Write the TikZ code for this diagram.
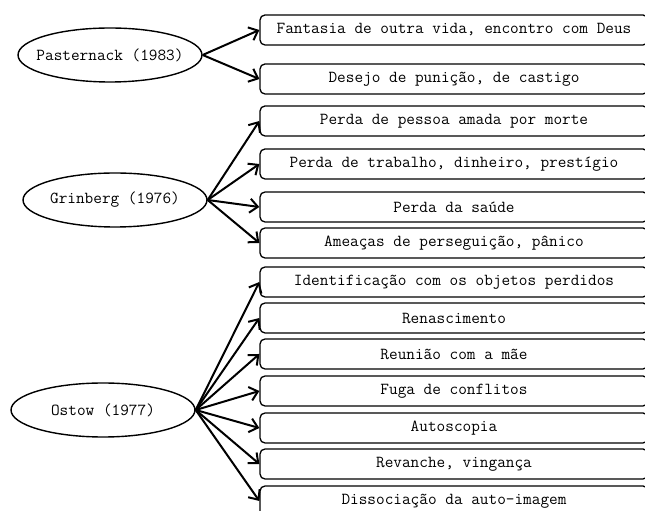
\documentclass[tikz,border=0pt]{standalone}
\usepackage{fontspec}
\usetikzlibrary{shapes.geometric,arrows.meta}
\newcommand{\reffont}{\ttfamily\fontsize{16.8}{18}\selectfont}
\newcommand{\zw}[1]{\makebox[0pt]{#1}}
\tikzset{
  item/.style={draw, line width=1.3pt, rounded corners=5pt, minimum width=388pt, minimum height=30pt, inner sep=0pt, font=\reffont},
  author/.style={draw, ellipse, line width=1.4pt, minimum width=184pt, minimum height=54pt, inner sep=0pt, font=\reffont},
  link/.style={line width=2pt, -{Straight Barb[length=8pt,width=14pt,line width=2pt]}}
}
\begin{document}
\begin{tikzpicture}[x=1pt,y=1pt]
\useasboundingbox (0,0) rectangle (645,511);
\clip (0,0) rectangle (645,511);
\node[author] (p) at (110,456) {\zw{Pasternack (1983)}};
\node[author] (g) at (115,311) {\zw{Grinberg (1976)}};
\node[author] (o) at (103,101) {\zw{Ostow (1977)}};
\node[item] (b1) at (454,481) {Fantasia de outra vida, encontro com Deus};
\node[item] (b2) at (454,432) {Desejo de punição, de castigo};
\node[item] (b3) at (454,390) {Perda de pessoa amada por morte};
\node[item] (b4) at (454,347) {Perda de trabalho, dinheiro, prestígio};
\node[item] (b5) at (454,304) {Perda da saúde};
\node[item] (b6) at (454,268) {Ameaças de perseguição, pânico};
\node[item] (b7) at (454,229) {Identificação com os objetos perdidos};
\node[item] (b8) at (454,193) {Renascimento};
\node[item] (b9) at (454,157) {Reunião com a mãe};
\node[item] (b10) at (454,120) {Fuga de conflitos};
\node[item] (b11) at (454,83) {Autoscopia};
\node[item] (b12) at (454,47) {Revanche, vingança};
\node[item] (b13) at (454,10) {Dissociação da auto-imagem};
\foreach \b in {b1,b2} \draw[link] (p.east) -- (\b.west);
\foreach \b in {b3,b4,b5,b6} \draw[link] (g.east) -- (\b.west);
\foreach \b in {b7,b8,b9,b10,b11,b12,b13} \draw[link] (o.east) -- (\b.west);
\end{tikzpicture}
\end{document}
